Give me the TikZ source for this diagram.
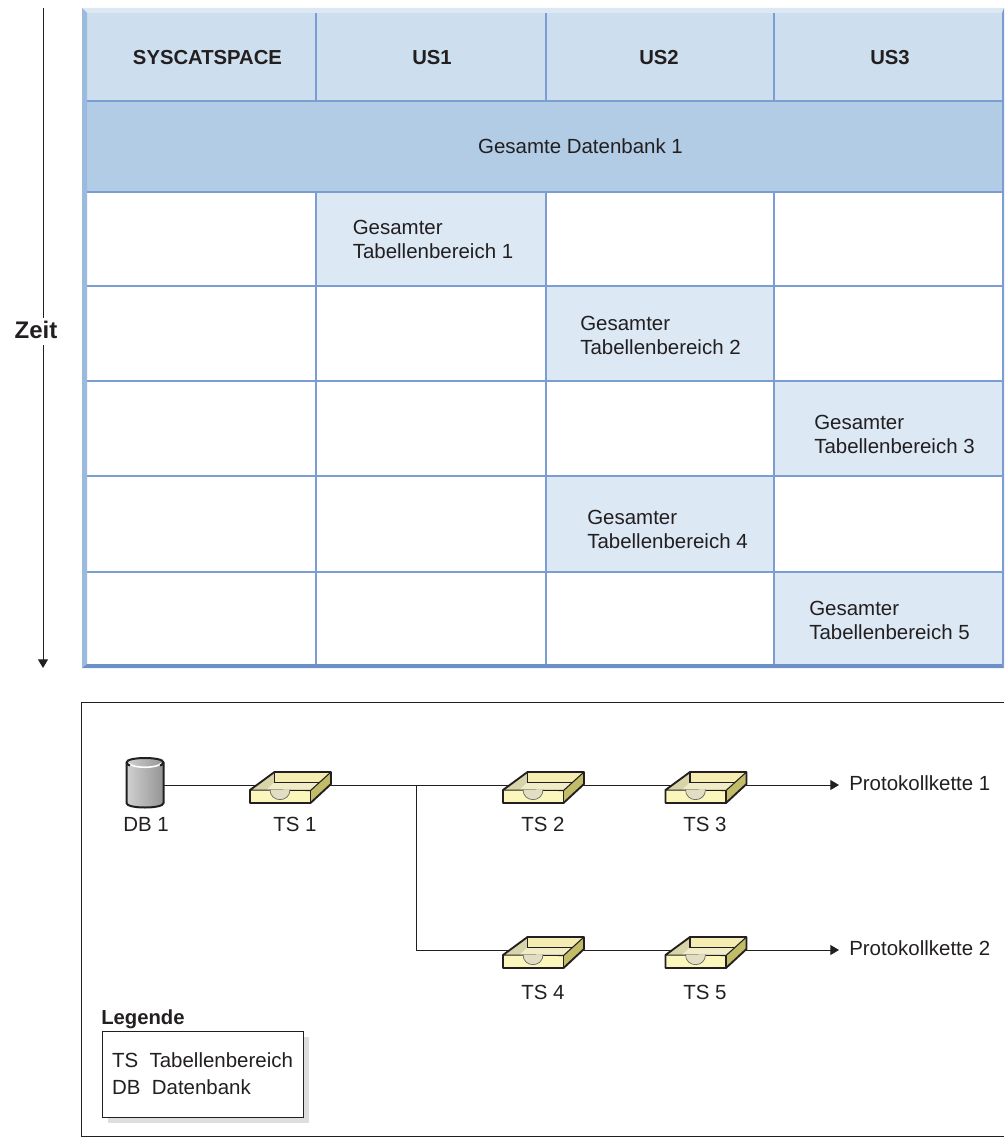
\documentclass[tikz,border=0pt]{standalone}
\usepackage{fontspec}
\setmainfont{Liberation Sans}
\usepackage{xcolor}
\usepackage{tikz}
\usetikzlibrary{arrows.meta,shadows}

\definecolor{inkdark}{HTML}{231F20}
\definecolor{gridblue}{HTML}{7C9DD1}
\definecolor{barleft}{HTML}{9ABBDD}
\definecolor{bartop}{HTML}{DCE8F3}
\definecolor{barbottom}{HTML}{6D90C8}
\definecolor{headfill}{HTML}{CDDFEE}
\definecolor{dbfill}{HTML}{B2CCE5}
\definecolor{tsfill}{HTML}{DCE9F5}
\definecolor{trayback}{HTML}{F4ECB0}
\definecolor{trayleft}{HTML}{D8D4AA}
\definecolor{trayfloor}{HTML}{F0ECC8}
\definecolor{trayright}{HTML}{C0BC68}
\definecolor{trayfront}{HTML}{FAF6BC}
\definecolor{traynotch}{HTML}{E2DEC4}

\tikzset{
  tray/.pic={
    \fill[trayback] (-16,-13) rectangle (40.5,-2.5);
    \fill[trayleft] (-40.5,5) -- (-16,-13) -- (-16,-2.5) -- (-24,5) -- cycle;
    \fill[trayfloor] (-16,-2.5) -- (29,-2.5) -- (20,5.5) -- (-24,5) -- cycle;
    \fill[trayright] (20,5.5) -- (40.5,-13) -- (40.5,-1) -- (20,18) -- cycle;
    \fill[trayfront] (-40.5,5) -- (20,5.5) -- (20,18) -- (-40.5,18) -- cycle;
    \draw[inkdark,line width=.8pt] (-16,-13) -- (-16,-2.5) -- (29,-2.5);
    \draw[inkdark,line width=.8pt] (-40.5,5) -- (20,5.5) -- (40.5,-13);
    \filldraw[fill=traynotch,draw=inkdark!70,line width=.5pt] (-20.5,4.5) .. controls (-20.5,18) and (-0.5,18) .. (-0.5,4.5);
    \draw[inkdark,line width=1.4pt,line join=round] (-40.5,5) -- (-16,-13) -- (40.5,-13) -- (40.5,-1) -- (20,18) -- (-40.5,18) -- cycle;
    \draw[inkdark,line width=1.1pt] (20,5.5) -- (20,18);
  },
  dbcan/.pic={
    \path[left color=black!18,right color=black!42,draw=inkdark,line width=1.5pt]
      (-18.5,-22.5) -- (-18.5,18) .. controls (-18.5,24) and (18.5,24) .. (18.5,18) -- (18.5,-22.5) .. controls (18.5,-28.5) and (-18.5,-28.5) .. (-18.5,-22.5) -- cycle;
    \draw[white,line width=1.2pt] (-16,-21.5) .. controls (-12,-16.5) and (12,-16.5) .. (16,-21.5);
    \draw[inkdark,line width=1.5pt] (-18.5,-22.5) .. controls (-18.5,-21) and (-16,-19.5) .. (-15,-19.5);
    \draw[inkdark,line width=1.5pt] (18.5,-22.5) .. controls (18.5,-21) and (16,-19.5) .. (15,-19.5);
  }
}

\begin{document}
\begin{tikzpicture}[x=.75pt,y=-.75pt,>={Triangle[length=6.5pt,width=7.5pt]},
    every node/.style={text=inkdark,font=\fontsize{15.35}{18}\selectfont,inner sep=0pt},
    head/.style={font=\bfseries\fontsize{15.2}{18}\selectfont},
    cell/.style={align=left},
    hidden/.style={minimum width=45pt,minimum height=15pt},
    grid/.style={draw=gridblue,line width=.8pt},
    flow/.style={draw=inkdark,line width=.7pt}]
  \useasboundingbox (0,0) rectangle (1004,1137);

  % table
  \fill[headfill] (86,13) rectangle (1003,101);
  \fill[dbfill] (86,101) rectangle (1003,192);
  \fill[tsfill] (316,192) rectangle (546,286);
  \fill[tsfill] (546,286) rectangle (774,381);
  \fill[tsfill] (774,381) rectangle (1003,476);
  \fill[tsfill] (546,476) rectangle (774,572);
  \fill[tsfill] (774,572) rectangle (1003,665);

  \foreach \rowy in {101,192,286,381,476,572}
    \draw[grid] (86,\rowy) -- (1003,\rowy);
  \foreach \colx in {316,546,774} {
    \draw[grid] (\colx,13) -- (\colx,101);
    \draw[grid] (\colx,192) -- (\colx,665);
  }
  \fill[bartop] (82,8) -- (1004,8) -- (1002,13) -- (86,13) -- cycle;
  \fill[barleft] (82,8) -- (87,13) -- (87,664) -- (82,668) -- cycle;
  \fill[barbottom] (82,668) -- (87,664) -- (1002,664) -- (1004,668) -- cycle;
  \fill[gridblue] (1002,13) -- (1004,8) -- (1004,668) -- (1002,664) -- cycle;

  \node[head] (syscatspace) at (207.5,58) {SYSCATSPACE};
  \node[head] (us1) at (432,58) {US1};
  \node[head] (us2) at (659,58) {US2};
  \node[head] (us3) at (890,58) {US3};
  \node (whole_db) at (580.5,146) {Gesamte Datenbank 1};
  \node[cell] (whole_ts1) at (433,239) {Gesamter\\Tabellenbereich 1};
  \node[cell] (whole_ts2) at (660.5,335) {Gesamter\\Tabellenbereich 2};
  \node[cell] (whole_ts3) at (894.5,434) {Gesamter\\Tabellenbereich 3};
  \node[cell] (whole_ts4) at (667.5,529) {Gesamter\\Tabellenbereich 4};
  \node[cell] (whole_ts5) at (889.5,620) {Gesamter\\Tabellenbereich 5};

  % time axis
  \node[font=\bfseries\fontsize{18}{20}\selectfont] (zeit) at (36,330) {Zeit};
  \coordinate (zeit_top) at (43,8);
  \coordinate (zeit_end) at (43,668);
  \draw[flow] (zeit_top) -- (zeit_top |- 0,318);
  \draw[flow,->] (zeit_end |- 0,345) -- (zeit_end);

  % lower frame
  \draw[flow] (1004,702) -- (81,702) -- (81,1136) -- (1004,1136);

  \node[hidden,minimum width=15pt] (db1) at (145,785) {};
  \node[hidden] (ts1) at (290.5,785) {};
  \node[hidden] (ts2) at (543.5,785) {};
  \node[hidden] (ts3) at (706,785) {};
  \node[hidden] (ts4) at (543.5,950) {};
  \node[hidden] (ts5) at (706,950) {};
  \coordinate (branch) at (416,785);
  \node[anchor=west] (chain1) at (849,783) {Protokollkette 1};
  \node[anchor=west] (chain2) at (849,948) {Protokollkette 2};
  \coordinate (chain1_in) at (839,785);
  \coordinate (chain2_in) at (839,950);

  \draw[flow] (db1) -- (ts1);
  \draw[flow] (ts1) -- (ts2);
  \draw[flow] (ts2) -- (ts3);
  \draw[flow,->] (ts3) -- (chain1_in);
  \draw[flow] (branch) |- (ts4);
  \draw[flow] (ts4) -- (ts5);
  \draw[flow,->] (ts5) -- (chain2_in);

  \pic at (db1) {dbcan};
  \foreach \tsname in {ts1,ts2,ts3,ts4,ts5}
    \pic at (\tsname) {tray};

  \node (db1_label) at (146,824) {DB 1};
  \node (ts1_label) at (295,824) {TS 1};
  \node (ts2_label) at (543,824) {TS 2};
  \node (ts3_label) at (705,824) {TS 3};
  \node (ts4_label) at (543,992) {TS 4};
  \node (ts5_label) at (705,992) {TS 5};

  % legend
  \node[head,anchor=west] (legend_title) at (101,1019) {Legende};
  \node[draw=inkdark,line width=.7pt,fill=white,minimum width=150.75pt,minimum height=64.5pt,align=left,
    drop shadow={shadow xshift=4.8pt,shadow yshift=-4.8pt,fill=black!13,opacity=1}] (legend) at (202.5,1074)
    {TS\ \ Tabellenbereich\\[2.25pt]DB\ \ Datenbank};
\end{tikzpicture}
\end{document}
